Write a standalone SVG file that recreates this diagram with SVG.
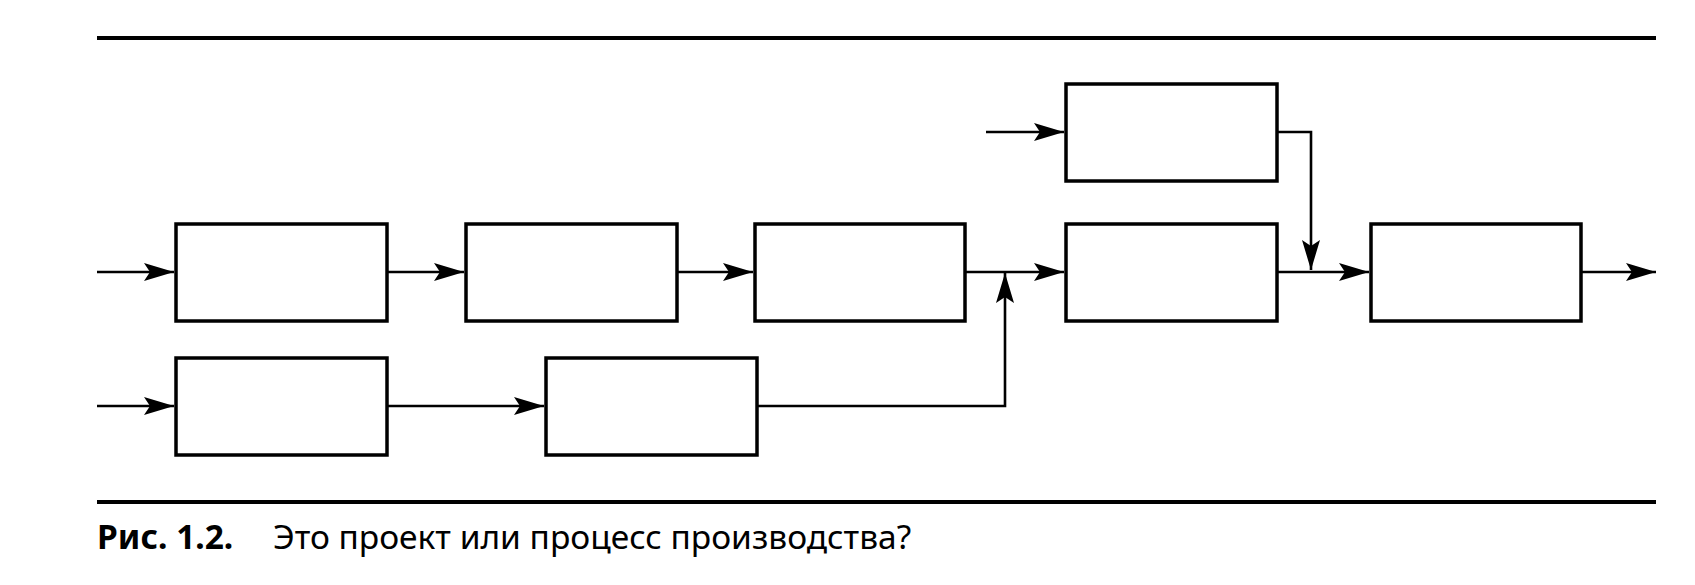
<svg xmlns="http://www.w3.org/2000/svg" width="1695" height="585" viewBox="0 0 1695 585">
<style>
.b{fill:#fff;stroke:#000;stroke-width:3.5}
.c{fill:none;stroke:#000;stroke-width:2.6}
.r{stroke:#000;stroke-width:4}
text{font-family:"Noto Sans","Open Sans",sans-serif;font-size:33.5px;fill:#000}
</style>
<defs><marker id="a" markerWidth="32" markerHeight="18" refX="30" refY="9" orient="auto" markerUnits="userSpaceOnUse"><path d="M0,0 L30,9 L0,18 L6,9 Z" fill="#000"/></marker></defs>
<line class="r" x1="97" y1="38" x2="1656" y2="38"/>
<line class="r" x1="97" y1="502" x2="1656" y2="502"/>
<g id="connectors">
<path class="c" d="M97,272 H174" marker-end="url(#a)"/>
<path class="c" d="M387,272 H464" marker-end="url(#a)"/>
<path class="c" d="M677,272 H753" marker-end="url(#a)"/>
<path class="c" d="M965,272 H1064" marker-end="url(#a)"/>
<path class="c" d="M757,406 H1005 V273" marker-end="url(#a)"/>
<path class="c" d="M986,132 H1064" marker-end="url(#a)"/>
<path class="c" d="M1277,132 H1311 V270" marker-end="url(#a)"/>
<path class="c" d="M1277,272 H1369" marker-end="url(#a)"/>
<path class="c" d="M1581,272 H1656" marker-end="url(#a)"/>
<path class="c" d="M97,406 H174" marker-end="url(#a)"/>
<path class="c" d="M387,406 H544" marker-end="url(#a)"/>
</g>
<g id="n1"><rect class="b" x="176" y="224" width="211" height="97"/></g>
<g id="n2"><rect class="b" x="466" y="224" width="211" height="97"/></g>
<g id="n3"><rect class="b" x="755" y="224" width="210" height="97"/></g>
<g id="n4"><rect class="b" x="1066" y="224" width="211" height="97"/></g>
<g id="n5"><rect class="b" x="1371" y="224" width="210" height="97"/></g>
<g id="n6"><rect class="b" x="1066" y="84" width="211" height="97"/></g>
<g id="n7"><rect class="b" x="176" y="358" width="211" height="97"/></g>
<g id="n8"><rect class="b" x="546" y="358" width="211" height="97"/></g>
<text x="97" y="549"><tspan font-weight="bold">Рис. 1.2.</tspan><tspan x="273">Это проект или процесс производства?</tspan></text>
</svg>
